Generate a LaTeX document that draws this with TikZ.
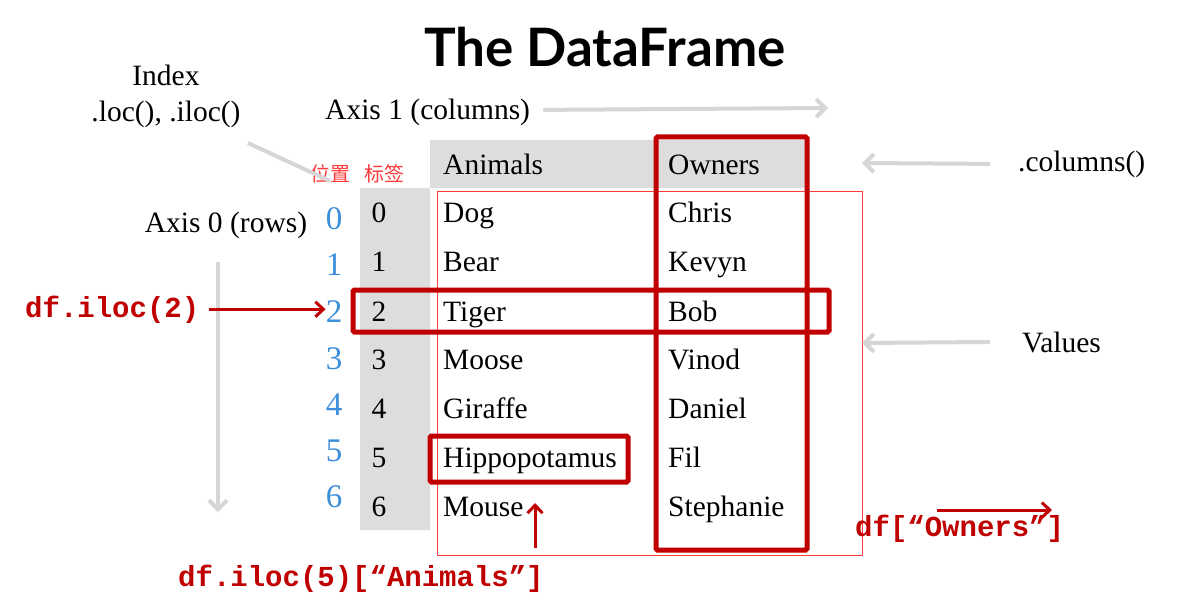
\documentclass[tikz,border=0pt]{standalone}
\usepackage{fontspec}
\setmainfont{Liberation Serif}
\newfontfamily\codefont{Liberation Mono}
\newfontfamily\titlefont{Lato}
\newfontfamily\cjk{Noto Sans CJK SC}
\usetikzlibrary{arrows.meta}
\definecolor{boxred}{HTML}{C00000}
\definecolor{posblue}{HTML}{3D8FDB}
\definecolor{lblred}{HTML}{FF3B3B}
\definecolor{hint}{HTML}{D6D6D6}
\definecolor{band}{HTML}{DDDDDD}
\tikzset{
  txt/.style={font=\fontsize{29.5}{32}\selectfont, inner sep=0pt, anchor=base west},
  idx/.style={font=\fontsize{29.5}{32}\selectfont, inner sep=0pt, anchor=base},
  posnum/.style={font=\fontsize{33}{36}\selectfont, text=posblue, inner sep=0pt, anchor=base},
  code/.style={font=\codefont\bfseries\fontsize{29}{32}\selectfont, text=boxred, inner sep=0pt, anchor=base west},
  pick/.style={draw=boxred, line width=5pt, rounded corners=1.5pt},
  hintarrow/.style={draw=hint, line width=4pt, -{Straight Barb[length=9pt,width=18pt]}},
  redarrow/.style={draw=boxred, line width=3pt, -{Straight Barb[length=8pt,width=15pt]}}
}
\begin{document}
\begin{tikzpicture}[x=1pt, y=-1pt]
  \useasboundingbox[fill=white] (0, 0) rectangle (1189, 604);
  \fill[band] (430, 140) rectangle (805, 188)
              (360, 188) rectangle (430, 530);
  \draw[lblred, line width=1pt] (437, 192) rectangle (862, 555);

  \node (title) at (605, 47) {\titlefont\bfseries\fontsize{53}{58}\selectfont The DataFrame};
  \node[idx] (index) at (166, 86) {Index};
  \node[idx] (indexloc) at (166, 122) {.loc(), .iloc()};
  \node[txt] (axis1) at (325, 120) {Axis 1 (columns)};
  \node[idx] (axis0) at (226, 233) {Axis 0 (rows)};
  \node[txt] (columns) at (1018, 172) {.columns()};
  \node[txt] (values) at (1022, 352) {Values};
  \node[text=lblred, inner sep=0pt, font=\cjk\fontsize{20}{22}\selectfont] (posname) at (330, 174) {位置};
  \node[text=lblred, inner sep=0pt, font=\cjk\fontsize{20}{22}\selectfont] (lblname) at (384, 174) {标签};

  \draw (443, 175) node (animals) [txt] {Animals}
        (668, 175) node (owners) [txt] {Owners};

  \draw (334, 230) node (pos0) [posnum] {0}
        (334, 276) node (pos1) [posnum] {1}
        (334, 322) node (pos2) [posnum] {2}
        (334, 369) node (pos3) [posnum] {3}
        (334, 415) node (pos4) [posnum] {4}
        (334, 461) node (pos5) [posnum] {5}
        (334, 507) node (pos6) [posnum] {6};

  \draw (379, 223) node (lbl0) [idx] {0}
        (379, 272) node (lbl1) [idx] {1}
        (379, 321) node (lbl2) [idx] {2}
        (379, 369) node (lbl3) [idx] {3}
        (379, 418) node (lbl4) [idx] {4}
        (379, 467) node (lbl5) [idx] {5}
        (379, 516) node (lbl6) [idx] {6};

  \draw (443, 223) node (dog) [txt] {Dog}
        (443, 272) node (bear) [txt] {Bear}
        (443, 321) node (tiger) [txt] {Tiger}
        (443, 369) node (moose) [txt] {Moose}
        (443, 418) node (giraffe) [txt] {Giraffe}
        (443, 467) node (hippo) [txt] {Hippopotamus}
        (443, 516) node (mouse) [txt] {Mouse};

  \draw (668, 223) node (chris) [txt] {Chris}
        (668, 272) node (kevyn) [txt] {Kevyn}
        (668, 321) node (bob) [txt] {Bob}
        (668, 369) node (vinod) [txt] {Vinod}
        (668, 418) node (daniel) [txt] {Daniel}
        (668, 467) node (fil) [txt] {Fil}
        (668, 516) node (stephanie) [txt] {Stephanie};

  \draw[pick] (656, 137) rectangle (807, 550)
              (353, 290) rectangle (829, 332)
              (430, 436) rectangle (628, 482);

  \node[code] (ilocrow) at (25, 317) {df.iloc(2)};
  \node[code] (ilocval) at (178, 586) {df.iloc(5)[“Animals”]};
  \node[code] (ownercol) at (855, 536) {df[“Owners”]};

  \coordinate (axis1end) at (828, 108);
  \coordinate (axis0top) at (218, 262);
  \coordinate (axis0end) at (218, 512);
  \coordinate (indexend) at (330, 181);
  \coordinate (colend) at (862, 163);
  \coordinate (valend) at (862, 343);
  \coordinate (valtail) at (535, 548);
  \coordinate (valhead) at (535, 503);
  \coordinate (owntail) at (937, 510);
  \coordinate (ownhead) at (1052, 510);

  \draw[hintarrow] (axis1.east) ++(13, -3) -- (axis1end);
  \draw[hintarrow] (axis0top) -- (axis0end);
  \draw[draw=hint, line width=4pt] (248, 143) -- (indexend);
  \draw[hintarrow] (columns.west) ++(-28, -1) -- (colend);
  \draw[hintarrow] (values.west) ++(-32, 0) -- (valend);

  \draw[redarrow] (ilocrow.east) ++(10, 0) -- (pos2.west |- ilocrow.east);
  \draw[redarrow] (valtail) -- (valhead);
  \draw[redarrow] (owntail) -- (ownhead);
\end{tikzpicture}
\end{document}
